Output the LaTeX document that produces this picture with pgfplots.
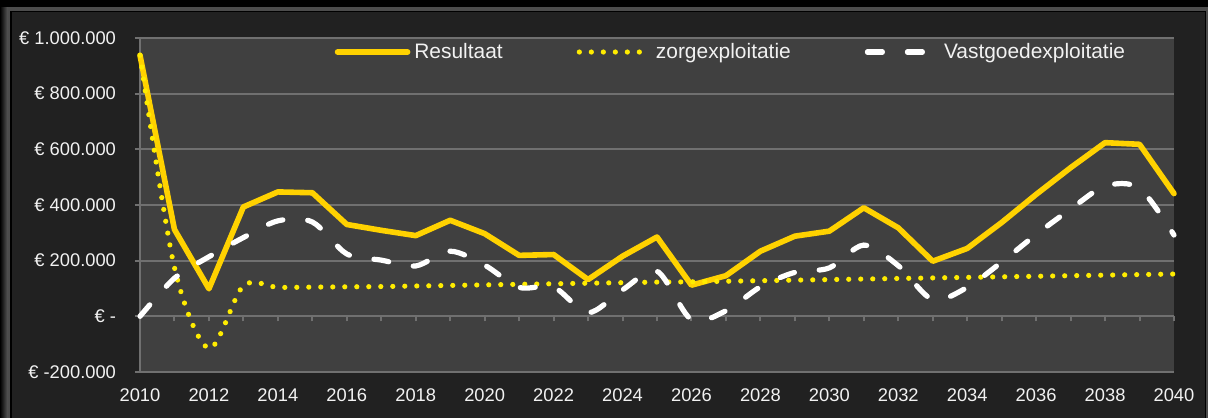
\documentclass[border=0pt]{standalone}
\usepackage{pgfplots}
\pgfplotsset{compat=1.18}
\usepackage{pgfplotstable}
\usepackage{fontspec}
\setmainfont{Liberation Sans}
\definecolor{plotbg}{RGB}{64,64,64}
\definecolor{framebg}{RGB}{33,33,33}
\definecolor{gridc}{RGB}{112,112,112}
\definecolor{gold}{RGB}{255,210,0}
\definecolor{lemon}{RGB}{255,236,0}
\definecolor{txt}{RGB}{242,242,242}

\pgfplotstableread{
year res zorg vast
2010 938000 938000 0
2011 312000 175000 137000
2012 99000 -115000 214000
2013 393000 110000 283000
2014 447000 104000 343000
2015 444000 105000 339000
2016 330000 106000 224000
2017 309000 107000 202000
2018 290000 109000 181000
2019 345000 111000 234000
2020 297000 113000 184000
2021 219000 115000 104000
2022 222000 117000 105000
2023 132000 119000 13000
2024 216000 121000 95000
2025 285000 123000 162000
2026 112000 124000 -12000
2027 146000 126000 20000
2028 234000 128000 106000
2029 288000 130000 158000
2030 306000 132000 174000
2031 390000 134000 256000
2032 318000 136000 182000
2033 198000 138000 60000
2034 244000 140000 104000
2035 337000 142000 195000
2036 438000 144000 294000
2037 534000 146000 385000
2038 624000 148000 468000
2039 618000 150000 460000
2040 441000 152000 292000
}\data

\begin{document}
\begin{tikzpicture}
\useasboundingbox (-70bp,-23bp) rectangle (534bp,186bp);
\fill[black] (-70bp,-23bp) rectangle (534bp,186bp);
\shade[left color=black, right color=gray!70!black] (-70bp,-30bp) rectangle (-66bp,182bp);
\fill[gray!60!black] (-66bp,-30bp) rectangle (534bp,182.5bp);
\fill[black] (-65bp,-30bp) rectangle (533bp,180.5bp);
\fill[framebg] (-64bp,-30bp) rectangle (532.5bp,180bp);

\begin{axis}[
  at={(0,0)}, anchor=south west,
  scale only axis, width=517bp, height=167bp,
  xmin=2010, xmax=2040, ymin=-200000, ymax=1000000,
  axis background/.style={fill=plotbg},
  axis y line*=left, axis x line*=bottom,
  x axis line style={draw=none},
  y axis line style={gridc, line width=1bp},
  scaled y ticks=false, scaled x ticks=false,
  ytick={-200000,0,200000,400000,600000,800000,1000000},
  yticklabels={€ -200.000,€ -,€ 200.000,€ 400.000,€ 600.000,€ 800.000,€ 1.000.000},
  ymajorgrids, grid style={gridc, line width=1bp},
  ytick style={gridc, line width=1bp},
  major tick length=2.5bp, tick align=outside,
  xtick={2010,2012,...,2040},
  xticklabels={2010,2012,2014,2016,2018,2020,2022,2024,2026,2028,2030,2032,2034,2036,2038,2040},
  xtick style={draw=none},
  ticklabel style={font=\fontsize{9.2}{11}\selectfont, text=txt},
  yticklabel style={xshift=-6bp},
  xticklabel style={yshift=-2.5bp},
]
\end{axis}

\begin{axis}[
  at={(0,0)}, anchor=south west,
  scale only axis, width=517bp, height=167bp,
  xmin=2010, xmax=2040, ymin=-200000, ymax=1000000,
  axis x line=middle, axis y line=none,
  x axis line style={gridc, line width=1bp, -},
  xtick={2010,2011,...,2040}, xticklabels={},
  xtick style={gridc, line width=1bp},
  major tick length=2.5bp, xtick align=outside,
  clip=false,
  legend image code/.code={\draw[#1] (0bp,0bp) -- (35bp,0bp);},
  legend style={draw=none, fill=none, at={(0.188,0.958)}, anchor=west,
    font=\fontsize{10.5}{12}\selectfont, text=txt, inner sep=0pt,
    /tikz/every even column/.append style={column sep=35bp}},
  legend columns=3,
]
\addplot[gold, line width=2.8bp, line join=round, line cap=round] table[x=year, y=res] {\data};
\addlegendentry{Resultaat}
\addplot[lemon, line width=2.6bp, line cap=round, dash pattern=on 0bp off 6bp, smooth, tension=0.5] table[x=year, y=zorg] {\data};
\addlegendentry{zorgexploitatie}
\addplot[white, line width=2.6bp, line cap=round, dash pattern=on 7.5bp off 12.5bp, smooth, tension=0.5] table[x=year, y=vast] {\data};
\addlegendentry{Vastgoedexploitatie}
\end{axis}
\end{tikzpicture}
\end{document}
